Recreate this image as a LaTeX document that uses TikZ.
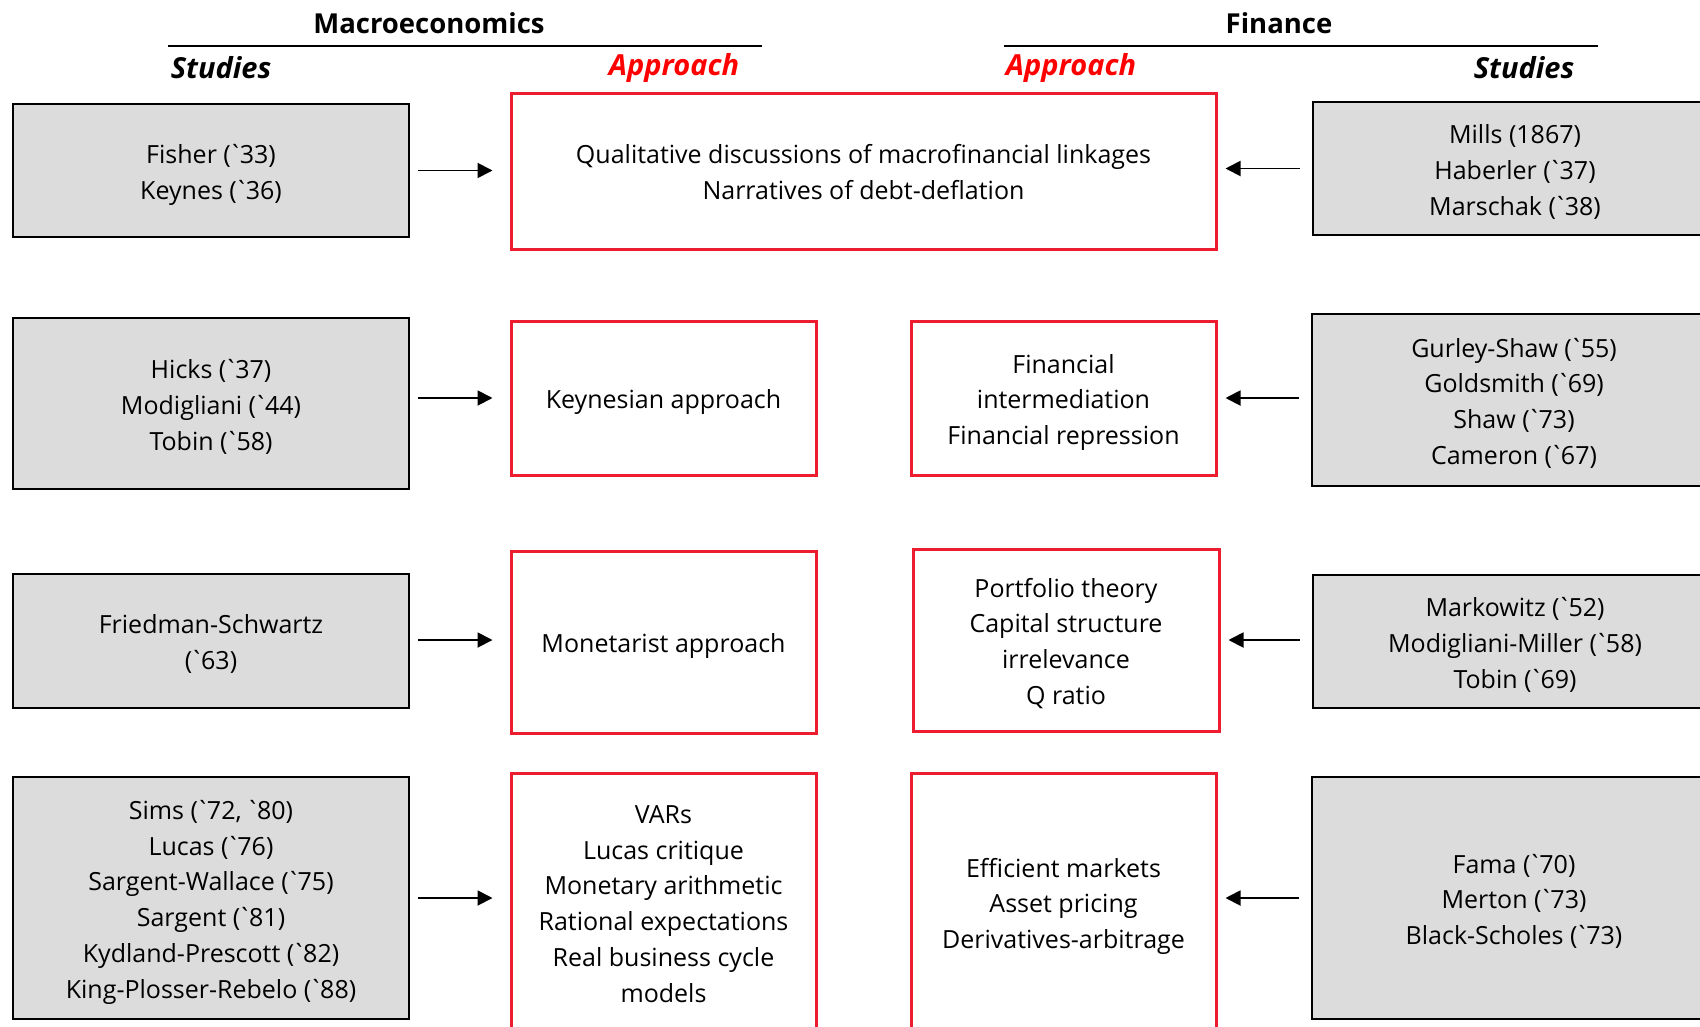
\documentclass[tikz,border=0pt]{standalone}
\usepackage{fontspec}
\newfontfamily\bodyfont{Open Sans}
\usetikzlibrary{arrows.meta}
\definecolor{boxgray}{HTML}{DCDCDC}
\definecolor{boxred}{HTML}{ED1C2E}
\definecolor{headred}{HTML}{FF0000}
\newcommand\gv{\kern-0.1em`\kern-0.12em}
\newcommand\sx{\rule{0pt}{29pt}}
\newcommand\ex{\rule[-7.3pt]{0pt}{7.3pt}}
\begin{document}
\begin{tikzpicture}[x=1pt,y=-1pt,
  every node/.style={font=\bodyfont\fontsize{25}{35.8}\selectfont, align=center, inner sep=0pt},
  graybox/.style={draw=black, line width=2.6pt, fill=boxgray, minimum width=396pt},
  rgraybox/.style={graybox, minimum width=404pt},
  redbox/.style={draw=boxred, line width=3pt, fill=white},
  head/.style={font=\bodyfont\bfseries\fontsize{27.5}{30}\selectfont},
  sub/.style={font=\bodyfont\bfseries\itshape\fontsize{29}{32}\selectfont},
  arr/.style={line width=1.9pt, -{Triangle[length=15pt,width=15pt]}},
  rule/.style={line width=2pt}
]
\useasboundingbox (0,0) rectangle (1700,1026);
\clip (0,0) rectangle (1700,1026);

% headers
\node[head] (hmacro) at (429,23) {Macroeconomics};
\node[head] (hfin) at (1279,23) {Finance};
\coordinate (ml1) at (168,45.5); \coordinate (ml2) at (762,45.5);
\coordinate (fl1) at (1004,45.5); \coordinate (fl2) at (1598,45.5);
\draw[rule] (ml1) -- (ml2);
\draw[rule] (fl1) -- (fl2);
\node[sub] (sl) at (221,68) {Studies};
\node[sub, text=headred] (al) at (674,68) {Approach};
\node[sub, text=headred] (ar) at (1071,68) {Approach};
\node[sub] (sr) at (1524,68) {Studies};

% row 1
\node[graybox, minimum height=133pt] (lg1) at (211,170.5) {\sx Fisher (\gv33)\\Keynes (\gv36)\ex};
\node[redbox, minimum width=705pt, minimum height=156pt] (r1) at (863.5,171) {\sx Qualitative discussions of macrofinancial linkages\\Narratives of debt-deflation\ex};
\node[rgraybox, minimum height=133pt] (rg1) at (1515,168.5) {\sx Mills (1867)\\Haberler (\gv37)\\Marschak (\gv38)\ex};
\draw[arr, shorten <=8pt, shorten >=17pt] (lg1.east) -- (r1.west |- lg1.east);
\draw[arr, shorten <=12pt, shorten >=8pt] (rg1.west) -- (r1.east |- rg1.west);

% row 2
\node[graybox, minimum height=171pt] (lg2) at (211,403.5) {\sx Hicks (\gv37)\\Modigliani (\gv44)\\Tobin (\gv58)\ex};
\node[redbox, minimum width=305pt, minimum height=154pt] (m2) at (663.5,398) {\sx Keynesian approach\ex};
\node[redbox, minimum width=305pt, minimum height=154pt] (f2) at (1063.5,398) {\sx Financial\\intermediation\\Financial repression\ex};
\node[rgraybox, minimum height=172pt] (rg2) at (1514,400) {\sx Gurley-Shaw (\gv55)\\Goldsmith (\gv69)\\Shaw (\gv73)\\Cameron (\gv67)\ex};
\draw[arr, shorten <=8pt, shorten >=17pt] (lg2.east |- m2.west) -- (m2.west);
\draw[arr, shorten <=12pt, shorten >=8pt] (rg2.west |- f2.east) -- (f2.east);

% row 3
\node[graybox, minimum height=134pt] (lg3) at (211,641) {\sx Friedman-Schwartz\\(\gv63)\ex};
\node[redbox, minimum width=305pt, minimum height=182pt] (m3) at (663.5,642) {\sx Monetarist approach\ex};
\node[redbox, minimum width=306pt, minimum height=182pt] (f3) at (1066,640) {\sx Portfolio theory\\Capital structure\\irrelevance\\Q ratio\ex};
\node[rgraybox, minimum height=133pt] (rg3) at (1515,641.5) {\sx Markowitz (\gv52)\\Modigliani-Miller (\gv58)\\Tobin (\gv69)\ex};
\draw[arr, shorten <=8pt, shorten >=17pt] (lg3.east |- f3.west) -- (m3.west |- f3.west);
\draw[arr, shorten <=12pt, shorten >=8pt] (rg3.west |- f3.east) -- (f3.east);

% row 4
\node[graybox, minimum height=242pt] (lg4) at (211,898) {\sx Sims (\gv72, \gv80)\\Lucas (\gv76)\\Sargent-Wallace (\gv75)\\Sargent (\gv81)\\Kydland-Prescott (\gv82)\\King-Plosser-Rebelo (\gv88)\ex};
\node[redbox, minimum width=305pt, minimum height=258pt] (m4) at (663.5,902) {\sx VARs\\Lucas critique\\Monetary arithmetic\\Rational expectations\\Real business cycle\\models\ex};
\node[redbox, minimum width=305pt, minimum height=258pt] (f4) at (1063.5,902) {\sx Efficient markets\\Asset pricing\\Derivatives-arbitrage\ex};
\node[rgraybox, minimum height=242pt] (rg4) at (1514,898) {\sx Fama (\gv70)\\Merton (\gv73)\\Black-Scholes (\gv73)\ex};
\draw[arr, shorten <=8pt, shorten >=17pt] (lg4.east) -- (m4.west |- lg4.east);
\draw[arr, shorten <=12pt, shorten >=8pt] (rg4.west) -- (f4.east |- rg4.west);
\end{tikzpicture}
\end{document}
